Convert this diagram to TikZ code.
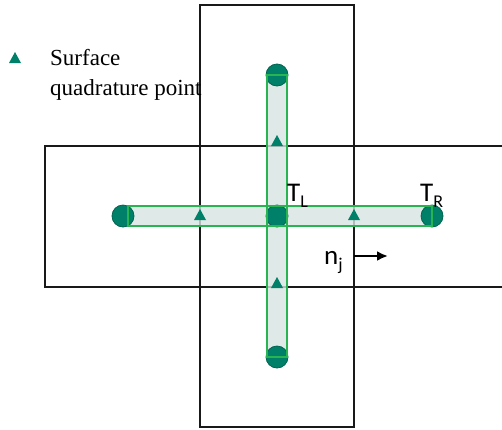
\documentclass[tikz,border=0pt]{standalone}
\usepackage{fontspec}
\usetikzlibrary{arrows.meta}
\setmainfont{Liberation Serif}
\newfontfamily\labfont{Carlito}
\definecolor{stripedge}{RGB}{40,180,80}
\definecolor{stripfill}{RGB}{214,228,226}
\definecolor{ballfill}{RGB}{0,128,104}
\definecolor{balledge}{RGB}{0,100,80}
\begin{document}
\begin{tikzpicture}[x=1pt,y=-1pt,
  box/.style={draw=black!90,line width=1.6pt},
  stripbg/.style={fill=stripfill,fill opacity=0.8},
  stripline/.style={draw=stripedge,line width=1.1pt},
  ball/.style={circle,draw=balledge,line width=0.8pt,fill=ballfill,minimum size=22pt,inner sep=0pt},
  tri/.style={fill=ballfill},
  lab/.style={font=\labfont\fontsize{27}{27}\selectfont,inner sep=0pt}]
\useasboundingbox (0,0) rectangle (502,429);
% boxes
\draw[box] (200,5) rectangle (354,427);
\draw[box] (45,146) rectangle (510,287);
% strip fills
\fill[stripbg] (128,206) rectangle (432,226);
\fill[stripbg] (267,75) rectangle (287,357);
% balls
\node[ball] (bl) at (123,216) {};
\node[ball] (bc) at (277,216) {};
\node[ball] (br) at (432,216) {};
\node[ball] (bt) at (277,75) {};
\node[ball] (bb) at (277,357) {};
% strip outlines
\draw[stripline] (128,206) rectangle (br.center |- 0,226);
\draw[stripline] (267,75) rectangle (287,357);
% triangles (quadrature points)
\foreach \x/\y in {200/215,354/215,277/141,277/283}
  \fill[tri] (\x-6,\y+5) -- (\x+6,\y+5) -- (\x,\y-6) -- cycle;
\fill[tri] (9,63) -- (21,63) -- (15,52) -- cycle;
% legend
\node[anchor=base west,inner sep=0pt,font=\fontsize{23}{30}\selectfont] (leg1) at (50,65) {Surface};
\node[anchor=base west,inner sep=0pt,font=\fontsize{23}{30}\selectfont] (leg2) at (50,95) {quadrature point};
% labels
\node[lab,anchor=base west] (tl) at (287,201) {T\raisebox{-6pt}{\fontsize{18}{18}\selectfont L}};
\node[lab,anchor=base west] (tr) at (420,201) {T\raisebox{-6pt}{\fontsize{18}{18}\selectfont R}};
\node[lab,anchor=base west] (nj) at (324,264) {n\raisebox{-6pt}{\fontsize{18}{18}\selectfont j}};
\coordinate (as) at (354,256);
\coordinate (ae) at (388,256);
\draw[line width=2.4pt,-{Latex[length=11pt,width=10pt]}] (as) -- (ae);
\end{tikzpicture}
\end{document}
